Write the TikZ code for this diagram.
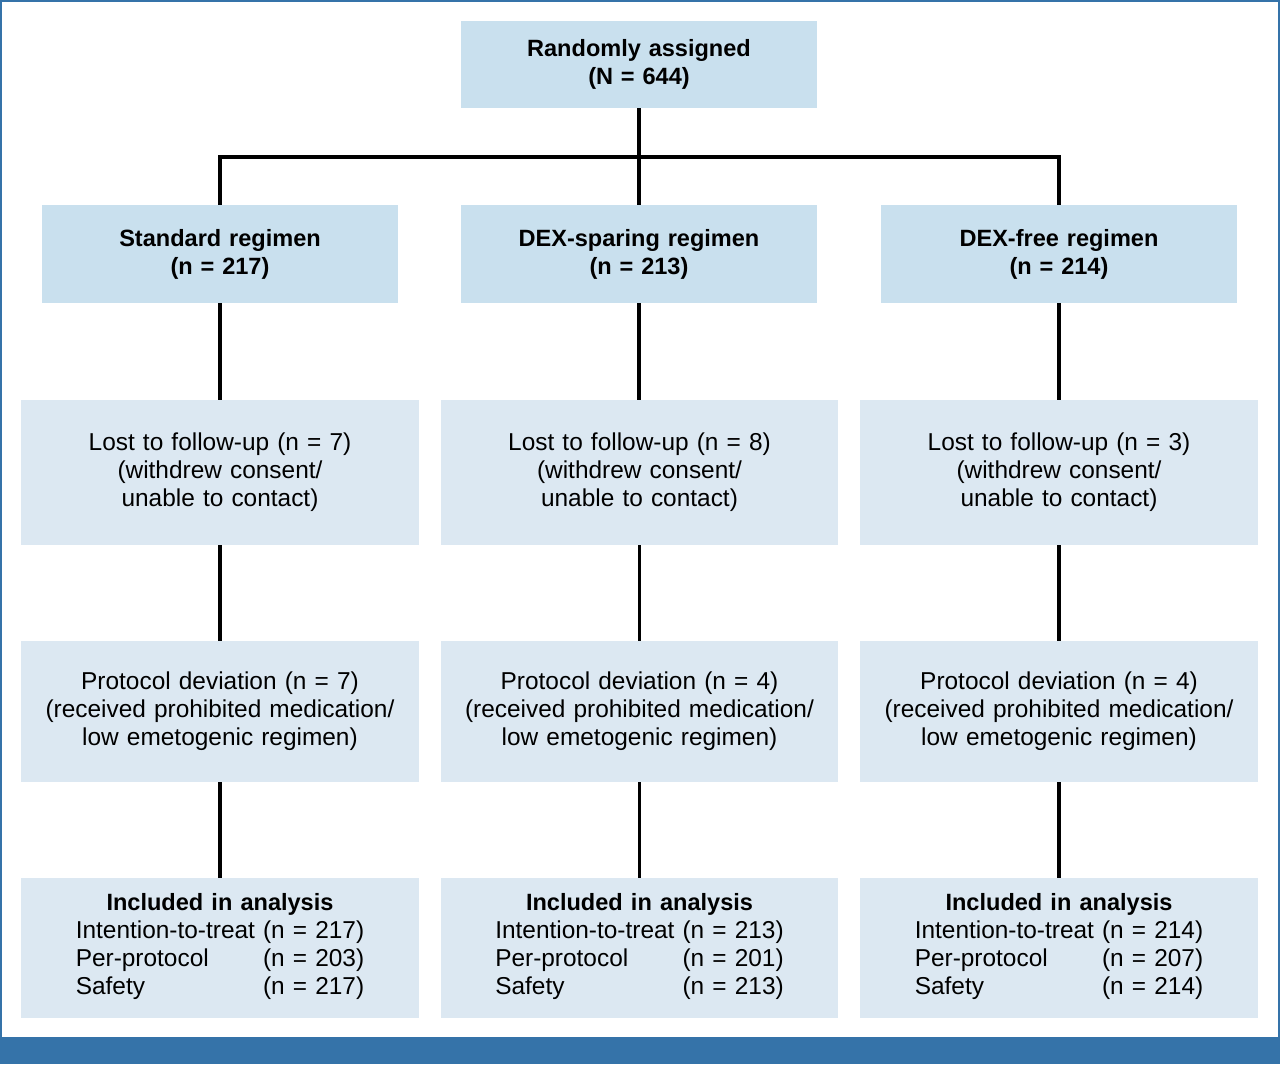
\documentclass[tikz,border=0pt]{standalone}
\usepackage{fontspec}
\setmainfont{Liberation Sans}
\usepackage{tikz}
\usetikzlibrary{positioning}
\usepackage{xcolor}
\definecolor{headblue}{HTML}{C9E0EE}
\definecolor{paleblue}{HTML}{DCE8F2}
\definecolor{barblue}{HTML}{3573A9}

\begin{document}
\begin{tikzpicture}[
        x=0.02cm, y=-0.02cm,
        every node/.style={font=\fontsize{13.9}{16}\selectfont, align=center, inner sep=0pt},
        headbox/.style={fill=headblue, minimum width=7.12cm, text width=7.12cm, font=\fontsize{13.4}{16}\selectfont\bfseries},
        stagebox/.style={fill=paleblue, minimum width=7.96cm, text width=7.96cm},
        link/.style={line width=2.1pt}
      ]
        \useasboundingbox (0,0) rectangle (1280,1064);
        % Frame and bottom bar
        \fill[barblue] (0,1038) rectangle (1280,1064);
        \draw[barblue, line width=1.2pt] (0.5,0.5) rectangle (1279.5,1038);

        % Randomisation
        \node[headbox, minimum height=1.74cm] (rand) at (639,64.5) {Randomly assigned\\(N = 644)};
        % Regimen arms
        \node[headbox, minimum height=1.96cm] (std) at (220,254) {Standard regimen\\(n = 217)};
        \node[headbox, minimum height=1.96cm] (spar) at (639,254) {DEX-sparing regimen\\(n = 213)};
        \node[headbox, minimum height=1.96cm] (free) at (1059,254) {DEX-free regimen\\(n = 214)};
        % Lost to follow-up
        \node[stagebox, minimum height=2.9cm] (lost1) at (220,472.5) {Lost to follow-up (n = 7)\\(withdrew consent/\\unable to contact)};
        \node[stagebox, minimum height=2.9cm] (lost2) at (639.5,472.5) {Lost to follow-up (n = 8)\\(withdrew consent/\\unable to contact)};
        \node[stagebox, minimum height=2.9cm] (lost3) at (1059,472.5) {Lost to follow-up (n = 3)\\(withdrew consent/\\unable to contact)};
        % Protocol deviation
        \node[stagebox, minimum height=2.82cm] (dev1) at (220,711.5) {Protocol deviation (n = 7)\\(received prohibited medication/\\low emetogenic regimen)};
        \node[stagebox, minimum height=2.82cm] (dev2) at (639.5,711.5) {Protocol deviation (n = 4)\\(received prohibited medication/\\low emetogenic regimen)};
        \node[stagebox, minimum height=2.82cm] (dev3) at (1059,711.5) {Protocol deviation (n = 4)\\(received prohibited medication/\\low emetogenic regimen)};
        % Included in analysis
        \node[stagebox, minimum height=2.8cm] (incl1) at (220,948) {{\fontsize{13.4}{16}\selectfont\bfseries Included in analysis}\\
          \begin{tabular}[t]{@{}l@{ }l@{}}Intention-to-treat & (n = 217)\\Per-protocol & (n = 203)\\Safety & (n = 217)\end{tabular}};
        \node[stagebox, minimum height=2.8cm] (incl2) at (639.5,948) {{\fontsize{13.4}{16}\selectfont\bfseries Included in analysis}\\
          \begin{tabular}[t]{@{}l@{ }l@{}}Intention-to-treat & (n = 213)\\Per-protocol & (n = 201)\\Safety & (n = 213)\end{tabular}};
        \node[stagebox, minimum height=2.8cm] (incl3) at (1059,948) {{\fontsize{13.4}{16}\selectfont\bfseries Included in analysis}\\
          \begin{tabular}[t]{@{}l@{ }l@{}}Intention-to-treat & (n = 214)\\Per-protocol & (n = 207)\\Safety & (n = 214)\end{tabular}};

        % Split to the three arms
        \coordinate (splitl) at (220,157);
        \coordinate (splitm) at (639,157);
        \coordinate (splitr) at (1059,157);
        \draw[link] (rand.south) -- (splitm);
        \draw[link, line cap=rect] (splitl) -- (splitr);
        \draw[link] (splitl) -- (std.north);
        \draw[link] (splitm) -- (spar.north);
        \draw[link] (splitr) -- (free.north);
        % Down each arm
        \draw[link] (std.south) -- (lost1.north);
        \draw[link] (spar.south) -- (spar.south |- lost2.north);
        \draw[link] (free.south) -- (lost3.north);
        \draw[link] (lost1.south) -- (dev1.north);
        \draw[link] (lost2.south) -- (dev2.north);
        \draw[link] (lost3.south) -- (dev3.north);
        \draw[link] (dev1.south) -- (incl1.north);
        \draw[link] (dev2.south) -- (incl2.north);
        \draw[link] (dev3.south) -- (incl3.north);
      \end{tikzpicture}
\end{document}
